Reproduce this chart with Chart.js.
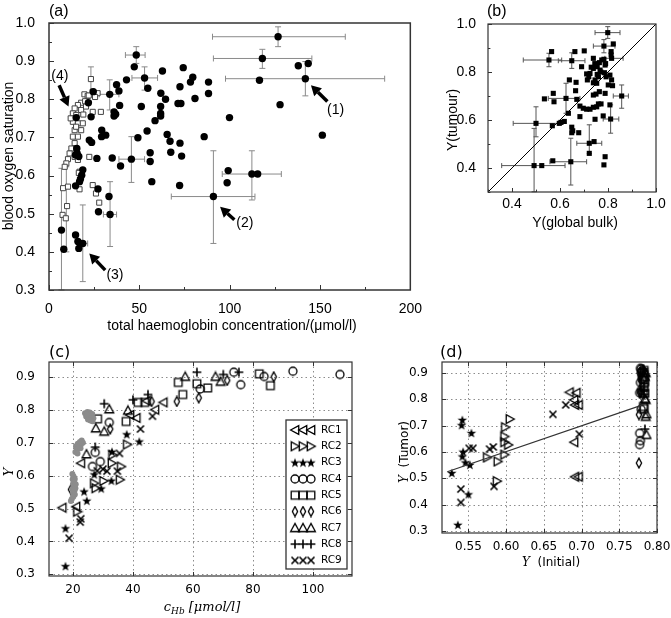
<!DOCTYPE html>
<html>
<head>
<meta charset="UTF-8">
<title>oxygen saturation panels</title>
<script src="https://cdn.jsdelivr.net/npm/chart.js@4"></script>
<style>
  body { margin: 0; background: #fff; width: 671px; height: 618px; position: relative; overflow: hidden; }
  canvas { position: absolute; }
  .lbl { position: absolute; color: #000; line-height: 1; }
</style>
</head>
<body>
<canvas id="ca" width="425" height="340" style="left:0;top:0"></canvas>
<canvas id="cb" width="241" height="235" style="left:430px;top:0"></canvas>
<canvas id="cc" width="420" height="283" style="left:0;top:335px"></canvas>
<canvas id="cd" width="276" height="245" style="left:395px;top:335px"></canvas>
<div class="lbl" style="left:49px;top:2px;font:16px 'Liberation Sans'">(a)</div>
<div class="lbl" style="left:487px;top:2px;font:16px 'Liberation Sans'">(b)</div>
<div class="lbl" style="left:49px;top:342px;font:16px 'DejaVu Sans'">(c)</div>
<div class="lbl" style="left:440px;top:342px;font:16px 'DejaVu Sans'">(d)</div>
<script>
// ---------------- panel (a): tumour vs haemoglobin
const aTickX = [0, 50, 100, 150, 200];
const aMinorX = [25, 75, 125, 175];
const aTickY = [0.3, 0.4, 0.5, 0.6, 0.7, 0.8, 0.9, 1.0];
const aMinorY = [0.35, 0.45, 0.55, 0.65, 0.75, 0.85, 0.95];

const aCircles = [
  [126.8,0.964],[118.1,0.907],[141.9,0.854],[138.0,0.888],[143.5,0.894],[116.5,0.850],[127.9,0.786],[151.3,0.706],
  [99.9,0.752],[88.3,0.845],[88.3,0.815],[85.9,0.702],[80.8,0.802],[79.6,0.858],[78.3,0.845],[74.3,0.883],
  [72.5,0.833],[71.4,0.789],[73.0,0.789],[72.5,0.685],[73.4,0.651],[72.3,0.574],[62.8,0.874],[61.9,0.816],
  [64.5,0.800],[61.8,0.781],[61.8,0.763],[61.8,0.756],[58.7,0.744],[65.4,0.708],[67.0,0.690],[67.4,0.661],
  [52.9,0.856],[48.3,0.916],[47.2,0.885],[54.7,0.829],[51.1,0.781],[54.3,0.717],[49.2,0.699],[56.0,0.660],
  [56.0,0.637],[56.9,0.584],[45.6,0.643],[42.9,0.851],[37.4,0.838],[38.7,0.822],[39.1,0.784],[36.0,0.767],
  [36.9,0.761],[36.0,0.756],[33.6,0.813],[31.4,0.706],[29.1,0.702],[29.2,0.719],[26.5,0.645],[35.0,0.646],
  [39.6,0.625],[24.5,0.820],[23.3,0.754],[21.8,0.791],[22.3,0.693],[23.6,0.687],[15.1,0.752],[15.4,0.671],
  [15.6,0.658],[14.7,0.654],[18.7,0.615],[17.4,0.591],[16.9,0.584],[14.7,0.573],[27.1,0.565],[33.2,0.545],
  [91.0,0.545],[112.3,0.604],[115.5,0.604],[98.6,0.581],[99.2,0.613],[27.4,0.505],[33.8,0.498],
  [6.9,0.457],[8.2,0.407],[14.7,0.444],[16.0,0.427],[16.5,0.409],[18.7,0.422],[18.1,0.601],[16.5,0.650]
];
const aSquares = [
  [23.2,0.853],[19.6,0.813],[24.2,0.820],[26.9,0.816],[21.4,0.809],[17.8,0.791],[16.0,0.785],[14.2,0.776],
  [13.2,0.763],[15.1,0.759],[17.8,0.772],[20.5,0.781],[24.2,0.767],[28.7,0.767],[13.2,0.741],[16.0,0.737],
  [18.7,0.737],[14.2,0.719],[17.8,0.719],[13.2,0.702],[16.0,0.702],[14.2,0.685],[12.4,0.671],[15.1,0.671],
  [11.4,0.658],[14.2,0.649],[10.5,0.643],[9.6,0.632],[8.7,0.623],[16.0,0.641],[22.3,0.649],[16.9,0.610],
  [7.8,0.567],[10.5,0.571],[24.2,0.575],[26.0,0.553],[27.8,0.529],[10.0,0.520],[7.5,0.497],[9.3,0.488],
  [16.5,0.607],[16.9,0.564],[22.0,0.810],[12.0,0.750],[19.0,0.760],[15.0,0.728],[20.0,0.795],[25.5,0.806]
];
// x, y, xlo, xhi, ylo, yhi
const aErrors = [
  [126.8,0.964, 90.5,164.0, 0.938,0.990],
  [118.1,0.907, 91.0,145.5, 0.881,0.931],
  [141.9,0.854, 97.7,185.8, 0.809,0.899],
  [52.9,0.856, 45.9,60.1, 0.824,0.885],
  [48.3,0.916, 42.3,53.2, 0.894,0.938],
  [45.6,0.643, 38.7,52.9, 0.582,0.702],
  [33.6,0.813, 27.8,38.7, 0.772,0.851],
  [91.0,0.545, 67.7,114.0, 0.422,0.665],
  [112.3,0.604, 95.9,128.6, 0.536,0.665],
  [33.8,0.498, 30.1,37.4, 0.414,0.584],
  [18.7,0.422, 16.9,21.4, 0.322,0.523],
  [6.9,0.457, null,null, 0.300,0.619],
  [9.6,0.520, null,null, 0.400,0.623],
  [23.2,0.853, null,null, 0.807,0.885]
];
const aNoteText = ['(1)', '(2)', '(3)', '(4)'];
const aNoteAt = [[158.6,0.772],[108.4,0.476],[36.5,0.339],[6.0,0.861]];
const aArrowTail = [[154.1,0.794],[102.6,0.484],[31.1,0.352],[5.6,0.837]];
const aArrowHead = [[145.0,0.837],[94.7,0.518],[22.3,0.396],[10.8,0.781]];

// ---------------- panel (b): tumour vs global bulk
const bTicks = [0.4, 0.6, 0.8, 1.0];
const bMinor = [0.3, 0.5, 0.7, 0.9];
const bPoints = [
  [0.799,0.964],[0.783,0.908],[0.822,0.917],[0.813,0.885],[0.813,0.871],[0.815,0.857],[0.554,0.850],[0.565,0.885],
  [0.649,0.847],[0.662,0.885],[0.701,0.888],[0.690,0.822],[0.739,0.857],[0.725,0.794],[0.739,0.815],[0.755,0.822],
  [0.764,0.839],[0.774,0.850],[0.783,0.853],[0.788,0.829],[0.767,0.808],[0.755,0.790],[0.746,0.767],[0.739,0.755],
  [0.753,0.753],[0.711,0.792],[0.714,0.767],[0.785,0.797],[0.792,0.780],[0.808,0.787],[0.815,0.767],[0.801,0.746],
  [0.819,0.743],[0.639,0.767],[0.667,0.757],[0.665,0.722],[0.670,0.686],[0.572,0.711],[0.575,0.676],[0.535,0.688],
  [0.625,0.690],[0.635,0.628],[0.604,0.590],[0.597,0.586],[0.618,0.594],[0.568,0.576],[0.500,0.586],[0.649,0.570],
  [0.653,0.555],[0.649,0.547],[0.678,0.547],[0.683,0.658],[0.697,0.649],[0.711,0.645],[0.725,0.645],[0.739,0.653],
  [0.753,0.655],[0.760,0.667],[0.771,0.667],[0.683,0.614],[0.739,0.704],[0.750,0.708],[0.764,0.718],[0.788,0.711],
  [0.857,0.700],[0.808,0.663],[0.811,0.604],[0.746,0.603],[0.780,0.617],[0.722,0.503],[0.742,0.510],[0.722,0.461],
  [0.788,0.447],[0.783,0.413],[0.570,0.430],[0.645,0.426],[0.492,0.410],[0.524,0.410],[0.720,0.780],[0.730,0.820],
  [0.760,0.780],[0.745,0.835],[0.770,0.800],[0.790,0.835]
];
const bErrors = [
  [0.799,0.964, 0.746,0.850, 0.940,0.989],
  [0.783,0.908, 0.739,0.829, 0.880,0.935],
  [0.815,0.857, 0.787,0.863, null,null],
  [0.554,0.850, 0.447,0.607, 0.822,0.878],
  [0.649,0.847, 0.593,0.704, 0.815,0.880],
  [0.625,0.690, 0.551,0.683, 0.628,0.753],
  [0.500,0.586, 0.405,0.593, 0.530,0.655],
  [0.857,0.700, 0.822,0.885, 0.649,0.746],
  [0.811,0.604, 0.780,0.845, 0.545,0.663],
  [0.722,0.503, 0.670,0.774, 0.460,0.580],
  [0.645,0.426, 0.558,0.711, 0.329,0.524],
  [0.492,0.410, 0.357,0.621, 0.301,0.565]
];
const bDiagonal = [[0.3,0.3],[1.0,1.0]];

// ---------------- panel (c): Y vs c_Hb per RC
const cTickX = [20, 40, 60, 80, 100];
const cTickY = [0.3, 0.4, 0.5, 0.6, 0.7, 0.8, 0.9];
const rcNames = ['RC1','RC2','RC3','RC4','RC5','RC6','RC7','RC8','RC9'];
const cRC1 = [[16.4,0.503],[21.0,0.506],[22.6,0.638],[39.0,0.785],[41.1,0.776],[47.3,0.801],[50.1,0.823],[44.5,0.828]];
const cRC2 = [[21.5,0.491],[27.6,0.562],[27.1,0.577],[30.2,0.584],[35.7,0.588],[36.1,0.628],[33.0,0.638],[33.2,0.664],[38.1,0.695]];
const cRC3 = [[17.5,0.440],[17.5,0.325],[23.7,0.552],[24.6,0.524],[27.1,0.604],[29.4,0.561],[32.8,0.585],[33.0,0.673],[37.9,0.726],[42.1,0.704]];
const cRC4 = [[26.5,0.628],[29.1,0.643],[27.4,0.671],[32.1,0.762],[62.4,0.864],[73.6,0.915],[75.9,0.877],[83.7,0.902],[93.3,0.918],[109.0,0.908]];
const cRC5 = [[28.2,0.773],[37.7,0.765],[41.7,0.823],[43.9,0.823],[55.1,0.884],[56.6,0.847],[61.3,0.880],[64.9,0.867],[82.1,0.910],[85.8,0.874]];
const cRC6 = [[32.4,0.742],[46.2,0.826],[54.6,0.826],[61.9,0.837],[71.4,0.890],[86.9,0.901],[19.3,0.558]];
const cRC7 = [[24.5,0.666],[27.6,0.745],[30.4,0.735],[32.1,0.803],[38.3,0.799],[57.4,0.902],[67.5,0.902],[69.2,0.887]];
const cRC8 = [[27.4,0.687],[30.4,0.819],[40.0,0.831],[45.0,0.847],[61.3,0.915],[70.1,0.908],[75.3,0.915]];
const cRC9 = [[18.7,0.410],[22.4,0.459],[22.6,0.469],[28.1,0.615],[31.3,0.614],[34.8,0.614],[30.0,0.620],[35.5,0.668],[42.5,0.742],[46.5,0.781]];
const cGray = [
  [24.0,0.790],[24.8,0.794],[25.6,0.792],[26.4,0.788],[24.4,0.780],[25.2,0.783],[26.0,0.779],[26.8,0.775],
  [25.0,0.771],[25.8,0.768],[26.5,0.766],[24.6,0.786],
  [21.0,0.690],[21.6,0.697],[22.3,0.703],[22.9,0.707],[23.3,0.700],[22.6,0.694],[21.9,0.686],[21.3,0.680],
  [22.5,0.684],[20.8,0.672],[21.5,0.668],
  [19.8,0.605],[20.2,0.598],[19.9,0.589],[20.3,0.583],[20.0,0.575],[20.4,0.567],[19.8,0.560],[20.5,0.555],
  [20.0,0.548],[20.6,0.543],[20.1,0.536],[19.6,0.529],[19.3,0.523],[20.8,0.562],[20.9,0.574],[20.6,0.590]
];

// ---------------- panel (d): tumour Y vs initial Y
const dTickX = [0.55, 0.60, 0.65, 0.70, 0.75, 0.80];
const dTickY = [0.3, 0.4, 0.5, 0.6, 0.7, 0.8, 0.9];
const dRC1 = [[0.684,0.827],[0.690,0.798],[0.693,0.825],[0.691,0.779],[0.696,0.779],[0.690,0.637],[0.691,0.506],[0.696,0.506]];
const dRC2 = [[0.605,0.725],[0.599,0.694],[0.598,0.659],[0.598,0.637],[0.603,0.627],[0.598,0.590],[0.575,0.579],[0.589,0.564],[0.588,0.489]];
const dRC3 = [[0.528,0.520],[0.542,0.722],[0.541,0.702],[0.554,0.672],[0.543,0.601],[0.542,0.583],[0.546,0.560],[0.552,0.551],[0.550,0.439],[0.536,0.323]];
const dRC4 = [[0.777,0.628],[0.778,0.643],[0.777,0.671],[0.779,0.762],[0.778,0.864],[0.779,0.915],[0.780,0.877],[0.779,0.902],[0.778,0.918],[0.780,0.908],[0.777,0.825]];
const dRC5 = [[0.782,0.773],[0.783,0.765],[0.782,0.823],[0.784,0.823],[0.782,0.884],[0.783,0.847],[0.782,0.880],[0.784,0.867],[0.783,0.910],[0.782,0.874]];
const dRC6 = [[0.776,0.742],[0.777,0.826],[0.778,0.826],[0.777,0.837],[0.778,0.890],[0.778,0.901],[0.776,0.558]];
const dRC7 = [[0.786,0.666],[0.786,0.745],[0.785,0.735],[0.784,0.803],[0.785,0.799],[0.784,0.902],[0.785,0.902],[0.784,0.887]];
const dRC8 = [[0.784,0.687],[0.783,0.819],[0.782,0.831],[0.783,0.847],[0.782,0.915],[0.783,0.908],[0.782,0.915]];
const dRC9 = [[0.540,0.459],[0.540,0.408],[0.551,0.614],[0.556,0.614],[0.578,0.611],[0.583,0.619],[0.584,0.469],[0.662,0.743],[0.679,0.779],[0.697,0.668]];
const dFit = [[0.522,0.525],[0.782,0.780]];

// ---------------- helpers
const xy = arr => arr.map(p => ({ x: p[0], y: p[1] }));

// small canvases used as point styles for the RC markers
function marker(kind) {
  const s = 12, m = s / 2, r = 4.4;
  const c = document.createElement('canvas');
  c.width = c.height = s;
  const g = c.getContext('2d');
  g.strokeStyle = '#000'; g.fillStyle = '#000'; g.lineWidth = 1.3;
  g.beginPath();
  if (kind === 'tl') { g.moveTo(m - r, m); g.lineTo(m + r * 0.85, m - r); g.lineTo(m + r * 0.85, m + r); g.closePath(); g.stroke(); }
  else if (kind === 'tr') { g.moveTo(m + r, m); g.lineTo(m - r * 0.85, m - r); g.lineTo(m - r * 0.85, m + r); g.closePath(); g.stroke(); }
  else if (kind === 'tu') { g.moveTo(m, m - r); g.lineTo(m + r, m + r * 0.85); g.lineTo(m - r, m + r * 0.85); g.closePath(); g.stroke(); }
  else if (kind === 'o') { g.arc(m, m, r - 0.4, 0, Math.PI * 2); g.stroke(); }
  else if (kind === 's') { g.rect(m - r + 0.6, m - r + 0.6, 2 * r - 1.2, 2 * r - 1.2); g.stroke(); }
  else if (kind === 'd') { g.moveTo(m, m - r - 0.5); g.lineTo(m + r * 0.6, m); g.lineTo(m, m + r + 0.5); g.lineTo(m - r * 0.6, m); g.closePath(); g.stroke(); }
  else if (kind === '+') { g.lineWidth = 1.6; g.moveTo(m - r, m); g.lineTo(m + r, m); g.moveTo(m, m - r); g.lineTo(m, m + r); g.stroke(); }
  else if (kind === 'x') { g.lineWidth = 1.6; g.moveTo(m - r + 0.9, m - r + 0.9); g.lineTo(m + r - 0.9, m + r - 0.9); g.moveTo(m + r - 0.9, m - r + 0.9); g.lineTo(m - r + 0.9, m + r - 0.9); g.stroke(); }
  else if (kind === '*') {
    for (let i = 0; i < 10; i++) {
      const a = -Math.PI / 2 + i * Math.PI / 5, rr = i % 2 ? r * 0.45 : r + 0.6;
      const px = m + rr * Math.cos(a), py = m + 0.4 + rr * Math.sin(a);
      i ? g.lineTo(px, py) : g.moveTo(px, py);
    }
    g.closePath(); g.fill();
  }
  return c;
}
const rcMarks = ['tl', 'tr', '*', 'o', 's', 'd', 'tu', '+', 'x'].map(marker);

function rcSets(series) {
  return series.map((d, i) => ({
    label: rcNames[i], data: xy(d), pointStyle: rcMarks[i], pointRadius: 5
  }));
}

// frame: box, inward ticks, optional dotted grid
function framePlugin(f) {
  return {
    id: 'frame',
    beforeDatasetsDraw(chart) {
      if (!f.grid) return;
      const { ctx, chartArea: a, scales: { x, y } } = chart;
      ctx.save();
      ctx.strokeStyle = '#8c8c8c'; ctx.lineWidth = 1; ctx.setLineDash([1.5, 3]);
      ctx.beginPath();
      f.xMajor.forEach(v => { const p = Math.round(x.getPixelForValue(v)) + 0.5; ctx.moveTo(p, a.top); ctx.lineTo(p, a.bottom); });
      f.yMajor.forEach(v => { const p = Math.round(y.getPixelForValue(v)) + 0.5; ctx.moveTo(a.left, p); ctx.lineTo(a.right, p); });
      ctx.stroke();
      ctx.restore();
    },
    afterDatasetsDraw(chart) {
      const { ctx, chartArea: a, scales: { x, y } } = chart;
      ctx.save();
      ctx.strokeStyle = f.color; ctx.lineWidth = f.lw;
      ctx.strokeRect(a.left, a.top, a.right - a.left, a.bottom - a.top);
      ctx.lineWidth = 1;
      ctx.beginPath();
      const tx = (vals, len) => vals.forEach(v => {
        const p = Math.round(x.getPixelForValue(v)) + 0.5;
        ctx.moveTo(p, a.bottom); ctx.lineTo(p, a.bottom - len);
        if (f.mirror) { ctx.moveTo(p, a.top); ctx.lineTo(p, a.top + len); }
      });
      const ty = (vals, len) => vals.forEach(v => {
        const p = Math.round(y.getPixelForValue(v)) + 0.5;
        ctx.moveTo(a.left, p); ctx.lineTo(a.left + len, p);
        if (f.mirror) { ctx.moveTo(a.right, p); ctx.lineTo(a.right - len, p); }
      });
      tx(f.xMajor, f.len); tx(f.xMinor || [], f.len * 0.6);
      ty(f.yMajor, f.len); ty(f.yMinor || [], f.len * 0.6);
      ctx.stroke();
      ctx.restore();
    }
  };
}

// error bars with caps
function errorPlugin(list, color, cap) {
  return {
    id: 'errbars',
    beforeDatasetsDraw(chart) {
      const { ctx, scales: { x, y } } = chart;
      ctx.save();
      ctx.strokeStyle = color; ctx.lineWidth = 1;
      ctx.beginPath();
      list.forEach(([px, py, xl, xh, yl, yh]) => {
        const X = x.getPixelForValue(px), Y = y.getPixelForValue(py);
        if (xl != null) {
          const l = x.getPixelForValue(xl), h = x.getPixelForValue(xh);
          ctx.moveTo(l, Y); ctx.lineTo(h, Y);
          ctx.moveTo(l, Y - cap); ctx.lineTo(l, Y + cap);
          ctx.moveTo(h, Y - cap); ctx.lineTo(h, Y + cap);
        }
        if (yl != null) {
          const l = y.getPixelForValue(yl), h = y.getPixelForValue(yh);
          ctx.moveTo(X, l); ctx.lineTo(X, h);
          ctx.moveTo(X - cap, l); ctx.lineTo(X + cap, l);
          ctx.moveTo(X - cap, h); ctx.lineTo(X + cap, h);
        }
      });
      ctx.stroke();
      ctx.restore();
    }
  };
}

// axis titles, drawn part by part so fonts can be mixed
function textPlugin(items) {
  return {
    id: 'texts',
    afterDraw(chart) {
      const ctx = chart.ctx;
      items.forEach(it => {
        ctx.save();
        ctx.translate(it.x, it.y);
        if (it.rot) ctx.rotate(-Math.PI / 2);
        ctx.textBaseline = 'middle'; ctx.fillStyle = '#000';
        let w = 0;
        it.parts.forEach(p => { ctx.font = p[1]; w += ctx.measureText(p[0]).width; });
        let cx = -w / 2;
        it.parts.forEach(p => { ctx.font = p[1]; ctx.fillText(p[0], cx, p[2] || 0); cx += ctx.measureText(p[0]).width; });
        ctx.restore();
      });
    }
  };
}

// arrows and labels (1)-(4) in panel (a)
const arrowPlugin = {
  id: 'arrows',
  afterDatasetsDraw(chart) {
    const { ctx, scales: { x, y } } = chart;
    ctx.save();
    ctx.fillStyle = '#000'; ctx.strokeStyle = '#000';
    ctx.font = "14px 'Liberation Sans'"; ctx.textAlign = 'center'; ctx.textBaseline = 'middle';
    aNoteText.forEach((t, i) => {
      ctx.fillText(t, x.getPixelForValue(aNoteAt[i][0]), y.getPixelForValue(aNoteAt[i][1]));
      const x1 = x.getPixelForValue(aArrowTail[i][0]), y1 = y.getPixelForValue(aArrowTail[i][1]);
      const x2 = x.getPixelForValue(aArrowHead[i][0]), y2 = y.getPixelForValue(aArrowHead[i][1]);
      const ang = Math.atan2(y2 - y1, x2 - x1), L = 10, W = 5.5;
      const bx = x2 - L * Math.cos(ang), by = y2 - L * Math.sin(ang);
      ctx.lineWidth = 3.5;
      ctx.beginPath(); ctx.moveTo(x1, y1); ctx.lineTo(bx, by); ctx.stroke();
      ctx.beginPath(); ctx.moveTo(x2, y2);
      ctx.lineTo(bx - W * Math.sin(ang), by + W * Math.cos(ang));
      ctx.lineTo(bx + W * Math.sin(ang), by - W * Math.cos(ang));
      ctx.closePath(); ctx.fill();
    });
    ctx.restore();
  }
};

// legend box for panel (c), three markers per entry
const rcLegendPlugin = {
  id: 'rclegend',
  afterDraw(chart) {
    const { ctx, chartArea: a } = chart;
    const w = 61, h = 149, left = a.right - 5 - w, top = a.bottom - 7 - h;
    ctx.save();
    ctx.fillStyle = '#fff'; ctx.fillRect(left, top, w, h);
    ctx.strokeStyle = '#333'; ctx.lineWidth = 1.3; ctx.strokeRect(left, top, w, h);
    ctx.font = "10.5px 'DejaVu Sans'"; ctx.fillStyle = '#000'; ctx.textBaseline = 'middle';
    rcNames.forEach((n, i) => {
      const yy = top + 10 + i * 16.3;
      [7, 15, 23].forEach(dx => ctx.drawImage(rcMarks[i], left + dx - 6 + 2, yy - 6));
      ctx.fillText(n, left + 35, yy);
    });
    ctx.restore();
  }
};

function scatter(id, datasets, o, plugins) {
  const font = o.font;
  return new Chart(document.getElementById(id), {
    type: 'scatter',
    data: { datasets },
    plugins,
    options: {
      responsive: false, animation: false, events: [],
      layout: { padding: o.pad },
      plugins: { legend: { display: false }, tooltip: { enabled: false } },
      scales: {
        x: {
          type: 'linear', min: o.x[0], max: o.x[1],
          afterFit: s => { s.height = o.xh; },
          afterBuildTicks: s => { s.ticks = o.xt.map(v => ({ value: v })); },
          ticks: { font, color: '#000', padding: o.xpad, autoSkip: false, maxRotation: 0, callback: o.xf },
          grid: { display: false }, border: { display: false }
        },
        y: {
          type: 'linear', min: o.y[0], max: o.y[1],
          afterFit: s => { s.width = o.yw; },
          afterBuildTicks: s => { s.ticks = o.yt.map(v => ({ value: v })); },
          ticks: { font, color: '#000', padding: o.ypad, autoSkip: false, callback: v => v.toFixed(1) },
          grid: { display: false }, border: { display: false }
        }
      }
    }
  });
}

// ---------------- build the four charts
const sans = "14px 'Liberation Sans'";
scatter('ca', [
  { data: xy(aCircles), pointStyle: 'circle', pointRadius: 3.7, backgroundColor: '#000', borderColor: '#000', borderWidth: 0 },
  { data: xy(aSquares), pointStyle: 'rect', pointRadius: 3.6, backgroundColor: '#fff', borderColor: '#444', borderWidth: 1 }
], {
  pad: { top: 23, right: 9, left: 0, bottom: 0 }, x: [0, 200], y: [0.3, 1.0], xh: 50, yw: 49,
  xt: aTickX, yt: aTickY, xpad: 3, ypad: 6, xf: v => v, font: { family: 'Liberation Sans', size: 14 }
}, [
  errorPlugin(aErrors, '#8a8a8a', 3),
  framePlugin({ xMajor: aTickX, xMinor: aMinorX, yMajor: aTickY, yMinor: aMinorY, len: 5, color: '#333', lw: 1.5 }),
  arrowPlugin,
  textPlugin([
    { parts: [['blood oxygen saturation', sans]], x: 9, y: 156, rot: true },
    { parts: [['total haemoglobin concentration/(\u03bcmol/l)', sans]], x: 232, y: 326 }
  ])
]);

scatter('cb', [
  { data: xy(bDiagonal), showLine: true, borderColor: '#000', borderWidth: 1, pointRadius: 0 },
  { data: xy(bPoints), pointStyle: 'rect', pointRadius: 3.6, backgroundColor: '#000', borderColor: '#000', borderWidth: 0 }
], {
  pad: { top: 24, right: 15, left: 0, bottom: 0 }, x: [0.3, 1.0], y: [0.3, 1.0], xh: 43, yw: 58,
  xt: bTicks, yt: bTicks, xpad: -4, ypad: 4, xf: v => v.toFixed(1), font: { family: 'Liberation Sans', size: 14 }
}, [
  errorPlugin(bErrors, '#555', 2.5),
  framePlugin({ xMajor: bTicks, xMinor: bMinor, yMajor: bTicks, yMinor: bMinor, len: 4, color: '#333', lw: 1.2 }),
  textPlugin([
    { parts: [['Y(tumour)', sans]], x: 23, y: 120, rot: true },
    { parts: [['Y(global bulk)', sans]], x: 145, y: 223 }
  ])
]);

const serifI = "italic 13px 'DejaVu Serif'";
scatter('cc', [
  { data: xy(cGray), pointStyle: 'circle', pointRadius: 3, backgroundColor: '#8c8c8c', borderWidth: 0 },
  ...rcSets([cRC1, cRC2, cRC3, cRC4, cRC5, cRC6, cRC7, cRC8, cRC9])
], {
  pad: { top: 27, right: 68, left: 0, bottom: 0 }, x: [12, 113], y: [0.295, 0.946], xh: 42, yw: 49,
  xt: cTickX, yt: cTickY, xpad: -1, ypad: 6, xf: v => v, font: { family: 'DejaVu Sans', size: 12 }
}, [
  framePlugin({ xMajor: cTickX, yMajor: cTickY, len: 4, color: '#333', lw: 1.2, mirror: true, grid: true }),
  rcLegendPlugin,
  textPlugin([
    { parts: [['Y', "italic 13px 'DejaVu Serif'"]], x: 10, y: 137, rot: true },
    { parts: [['c', serifI], ['Hb', "italic 9px 'DejaVu Serif'", 4], [' [\u03bcmol/l]', serifI]], x: 202, y: 273 }
  ])
]);

scatter('cd', [
  { data: xy(dFit), showLine: true, borderColor: '#333', borderWidth: 1.2, pointRadius: 0 },
  ...rcSets([dRC1, dRC2, dRC3, dRC4, dRC5, dRC6, dRC7, dRC8, dRC9])
], {
  pad: { top: 27, right: 14, left: 0, bottom: 0 }, x: [0.515, 0.80], y: [0.292, 0.942], xh: 47, yw: 47,
  xt: dTickX, yt: dTickY, xpad: -1, ypad: 6, xf: v => v.toFixed(2), font: { family: 'DejaVu Sans', size: 12 }
}, [
  framePlugin({ xMajor: dTickX, yMajor: dTickY, len: 4, color: '#333', lw: 1.2, mirror: true, grid: true }),
  textPlugin([
    { parts: [['Y', "italic 12px 'DejaVu Serif'"], ['  (Tumor)', "12px 'DejaVu Sans'"]], x: 10, y: 117, rot: true },
    { parts: [['Y', "italic 12px 'DejaVu Serif'"], ['  (Initial)', "12px 'DejaVu Sans'"]], x: 156, y: 228 }
  ])
]);
</script>
</body>
</html>
